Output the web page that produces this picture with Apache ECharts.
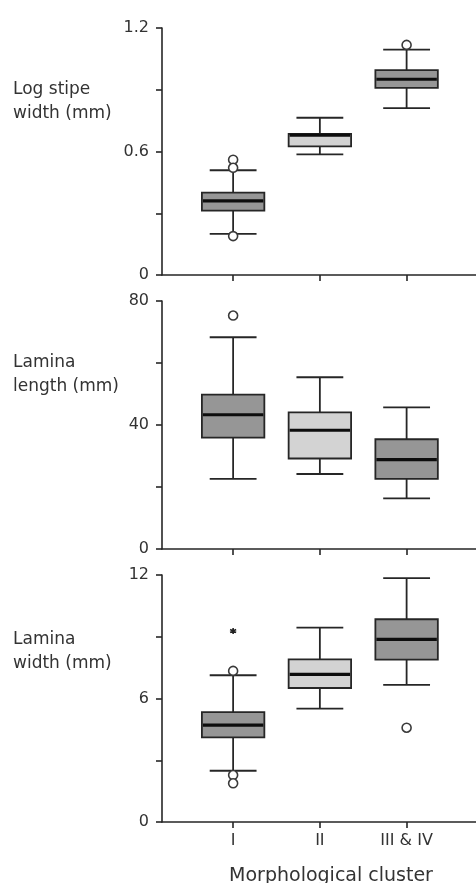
<!DOCTYPE html>
<html>
<head>
<meta charset="utf-8">
<script src="https://cdn.jsdelivr.net/npm/echarts@6/dist/echarts.min.js"></script>
<style>html,body{margin:0;padding:0;background:#fff}#c{width:476px;height:883px}</style>
</head>
<body>
<div id="c"></div>
<script>
// ---- data ----
const categories = ['I', 'II', 'III & IV'];
const catPos = [1, 2, 3];
// [whiskerLow, q1, median, q3, whiskerHigh]
const stipeBoxes = [
  [0.200, 0.313, 0.360, 0.400, 0.509],
  [0.586, 0.625, 0.680, 0.686, 0.764],
  [0.811, 0.909, 0.951, 0.995, 1.095]
];
const stipeOutliers = [[1, 0.560], [1, 0.521], [1, 0.189], [3, 1.118]];
const stipeExtremes = [];

const lengthBoxes = [
  [22.6, 35.9, 43.3, 49.8, 68.3],
  [24.2, 29.2, 38.3, 44.1, 55.4],
  [16.3, 22.6, 28.8, 35.4, 45.7]
];
const lengthOutliers = [[1, 75.3]];
const lengthExtremes = [];

const widthBoxes = [
  [2.49, 4.11, 4.71, 5.34, 7.13],
  [5.51, 6.51, 7.17, 7.90, 9.44],
  [6.66, 7.89, 8.87, 9.85, 11.85]
];
const widthOutliers = [[1, 7.34], [1, 2.28], [1, 1.88], [3, 4.58]];
const widthExtremes = [[1, 9.28]];

const yNames = ['Log stipe\nwidth (mm)', 'Lamina\nlength (mm)', 'Lamina\nwidth (mm)'];
const yMax = [1.2, 80, 12];
const yInterval = [0.3, 20, 3];
const yLabelStep = [0.6, 40, 6];
const xTitle = 'Morphological cluster';

// ---- styles ----
const boxFill = ['#969696', '#d3d3d3', '#969696'];
const ink = '#262626';
const textColor = '#333333';
const FONT = 'DejaVu Sans';
const boxHalf = 0.36, capHalf = 0.27;

const gridsPx = [
  { top: 28, height: 247 },
  { top: 301, height: 248 },
  { top: 575, height: 247 }
];

const panels = [
  { boxes: stipeBoxes, out: stipeOutliers, ext: stipeExtremes },
  { boxes: lengthBoxes, out: lengthOutliers, ext: lengthExtremes },
  { boxes: widthBoxes, out: widthOutliers, ext: widthExtremes }
];

function renderBox(params, api) {
  const x = api.value(0);
  const lo = api.value(1), q1 = api.value(2), md = api.value(3), q3 = api.value(4), hi = api.value(5);
  const ci = api.value(6);
  const pLo = api.coord([x, lo]), pQ1 = api.coord([x, q1]), pMd = api.coord([x, md]);
  const pQ3 = api.coord([x, q3]), pHi = api.coord([x, hi]);
  const bl = api.coord([x - boxHalf, q1])[0], br = api.coord([x + boxHalf, q1])[0];
  const cl = api.coord([x - capHalf, q1])[0], cr = api.coord([x + capHalf, q1])[0];
  const ls = { stroke: ink, lineWidth: 1.8 };
  return {
    type: 'group',
    children: [
      { type: 'line', shape: { x1: pLo[0], y1: pLo[1], x2: pQ1[0], y2: pQ1[1] }, style: ls },
      { type: 'line', shape: { x1: pQ3[0], y1: pQ3[1], x2: pHi[0], y2: pHi[1] }, style: ls },
      { type: 'line', shape: { x1: cl, y1: pLo[1], x2: cr, y2: pLo[1] }, style: ls },
      { type: 'line', shape: { x1: cl, y1: pHi[1], x2: cr, y2: pHi[1] }, style: ls },
      { type: 'rect', shape: { x: bl, y: pQ3[1], width: br - bl, height: pQ1[1] - pQ3[1] },
        style: { fill: boxFill[ci], stroke: ink, lineWidth: 1.8 } },
      { type: 'line', shape: { x1: bl + 1, y1: pMd[1], x2: br - 1, y2: pMd[1] }, style: { stroke: '#0d0d0d', lineWidth: 3.2 } }
    ]
  };
}

const grid = [], xAxis = [], yAxis = [], series = [];
panels.forEach((p, i) => {
  grid.push({ left: 162, right: 0, top: gridsPx[i].top, height: gridsPx[i].height });
  xAxis.push({
    type: 'value', gridIndex: i, min: 0.18, max: 3.8,
    axisLine: { show: true, onZero: false, lineStyle: { color: ink, width: 1.6 } },
    axisTick: { show: true, length: 6, customValues: catPos, lineStyle: { color: ink, width: 1.6 } },
    axisLabel: { show: i === 2, customValues: catPos, margin: 11,
      formatter: v => categories[Math.round(v) - 1] || '',
      color: textColor, fontFamily: FONT, fontSize: 16 },
    splitLine: { show: false }
  });
  const step = yLabelStep[i];
  yAxis.push({
    type: 'value', gridIndex: i, min: 0, max: yMax[i], interval: yInterval[i],
    axisLine: { show: true, lineStyle: { color: ink, width: 1.6 } },
    axisTick: { show: true, length: 6, lineStyle: { color: ink, width: 1.6 } },
    axisLabel: { margin: 13, color: textColor, fontFamily: FONT, fontSize: 16,
      formatter: v => { const r = v / step; return Math.abs(r - Math.round(r)) < 1e-6 ? String(+v.toFixed(2)) : ''; } },
    splitLine: { show: false }
  });
  series.push({
    type: 'custom', xAxisIndex: i, yAxisIndex: i,
    renderItem: renderBox,
    encode: { x: 0, y: [1, 2, 3, 4, 5] },
    data: p.boxes.map((b, k) => [catPos[k], b[0], b[1], b[2], b[3], b[4], k]),
    z: 2
  });
  series.push({
    type: 'scatter', xAxisIndex: i, yAxisIndex: i,
    symbol: 'circle', symbolSize: 9,
    itemStyle: { color: '#fff', borderColor: '#3a3a3a', borderWidth: 1.6, opacity: 1 },
    data: p.out, z: 3
  });
  if (p.ext.length) {
    series.push({
      type: 'scatter', xAxisIndex: i, yAxisIndex: i,
      symbol: 'path://M0,-10L0,10M-8.7,-5L8.7,5M-8.7,5L8.7,-5', symbolSize: 6,
      itemStyle: { color: 'none', borderColor: '#222', borderWidth: 1.6, opacity: 1 },
      data: p.ext, z: 3
    });
  }
});

const nameTops = [78, 351, 628];
const graphic = yNames.map((t, i) => ({
  type: 'text', left: 13, top: nameTops[i],
  style: { text: t, fill: textColor, font: '17px "' + FONT + '"', lineHeight: 24 }
}));
graphic.push({
  type: 'text', x: 331, y: 867,
  style: { text: xTitle, fill: textColor, font: '19px "' + FONT + '"', align: 'center', verticalAlign: 'top' }
});

const chart = echarts.init(document.getElementById('c'), null, { renderer: 'canvas' });
chart.setOption({
  animation: false,
  backgroundColor: '#fff',
  grid, xAxis, yAxis, series, graphic
});
</script>
</body>
</html>
